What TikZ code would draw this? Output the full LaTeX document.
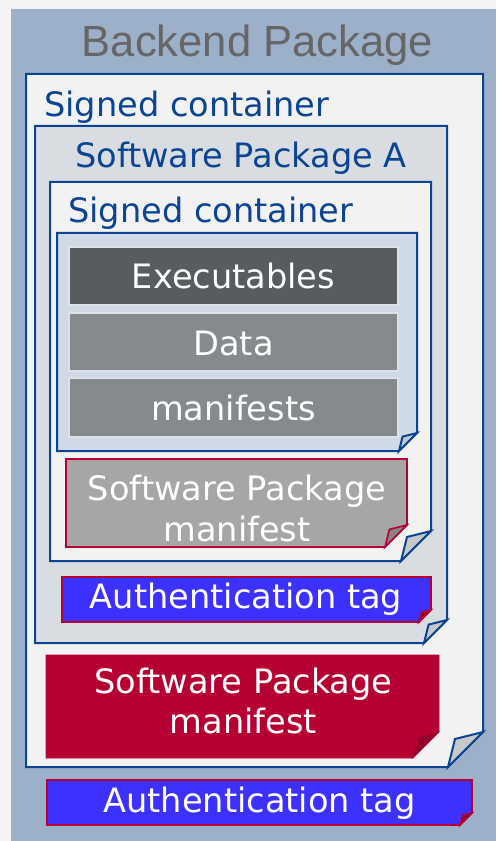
\documentclass[tikz,border=0pt]{standalone}
\usepackage{fontspec}
\setmainfont{DejaVu Sans}
\newfontfamily\bpfont{Liberation Sans}
\definecolor{pagebg}{HTML}{F4F4F4}
\definecolor{backend}{HTML}{9DB0C9}
\definecolor{dkblue}{HTML}{0A4493}
\definecolor{lightfill}{HTML}{F2F2F2}
\definecolor{spafill}{HTML}{D9DDE2}
\definecolor{innerfill}{HTML}{D0DAE6}
\definecolor{exefill}{HTML}{575C5F}
\definecolor{datafill}{HTML}{858B8D}
\definecolor{barline}{HTML}{DCE2E8}
\definecolor{grayman}{HTML}{A6A6A6}
\definecolor{crimson}{HTML}{B60032}
\definecolor{crimsondk}{HTML}{920028}
\definecolor{authblue}{HTML}{3C31FF}
\definecolor{flapgray}{HTML}{C6C8CA}
\definecolor{flapgraydk}{HTML}{858585}
\definecolor{titlegray}{HTML}{666666}
% folded-corner rectangle: #1 style, #2 L, #3 T, #4 R, #5 B, #6 fold size, #7 flap fill
\newcommand\foldrect[7]{%
  \draw[#1] (#2,#3) -- (#4,#3) -- (#4,#5-#6) -- (#4-#6,#5) -- (#2,#5) -- cycle;
  \draw[#1,fill=#7] (#4-#6,#5) -- (#4-0.8*#6,#5-0.8*#6) -- (#4,#5-#6) -- cycle;
}
\tikzset{
  bluebox/.style={draw=dkblue,line width=1.5pt,line join=miter},
  redbox/.style={draw=crimson,line width=1.2pt,line join=miter},
  bar/.style={draw=barline,line width=0.8pt},
  txt/.style={font=\fontsize{25.2}{30.5}\selectfont,inner sep=0pt,anchor=base},
  bluetxt/.style={txt,text=dkblue},
  whitetxt/.style={txt,text=white},
}
\begin{document}
\begin{tikzpicture}[x=0.75pt,y=-0.75pt]
\useasboundingbox (0,0) rectangle (496,841);
\fill[pagebg] (0,0) rectangle (496,841);
\fill[backend] (11,9) rectangle (496,841);
\node[txt,text=titlegray,font=\bpfont\fontsize{32.7}{36}\selectfont] (title) at (257.5,57) {Backend Package};

% outer signed container
\foldrect{bluebox,fill=lightfill}{26}{74}{483}{767}{35}{flapgray}
\node[bluetxt,anchor=base west] (sc1) at (44,117) {Signed container};

% software package A
\foldrect{bluebox,fill=spafill}{35}{126}{447}{643}{23}{flapgray}
\node[bluetxt] (spa) at (241,168) {Software Package A};

% inner signed container
\foldrect{bluebox,fill=lightfill}{50}{182}{431}{561}{30}{flapgray}
\node[bluetxt,anchor=base west] (sc2) at (68,223) {Signed container};

% innermost container
\foldrect{bluebox,fill=innerfill}{57}{233}{417}{451}{18}{flapgray}
\draw[bar,fill=exefill] (69,247) rectangle (398,305);
\draw[bar,fill=datafill] (69,313) rectangle (398,371);
\draw[bar,fill=datafill] (69,378) rectangle (398,437);
\node[whitetxt] (exe) at (233.5,289) {Executables};
\node[whitetxt] (data) at (233.5,355) {Data};
\node[whitetxt] (mans) at (233.5,420) {manifests};

% gray software package manifest
\foldrect{redbox,fill=grayman}{66}{459}{407}{547}{22}{flapgraydk}
\node[whitetxt,align=center,anchor=center] (spm1) at (237,508.5) {Software Package\\manifest};

% inner authentication tag
\foldrect{redbox,fill=authblue}{62}{577}{431}{622}{12}{crimsondk}
\node[whitetxt] (auth1) at (246,608) {Authentication tag};

% crimson software package manifest
\foldrect{draw=crimson,line width=0.5pt,fill=crimson}{46}{655}{439}{758}{26}{crimsondk}
\node[whitetxt,align=center,anchor=center] (spm2) at (243.5,701) {Software Package\\manifest};

% outer authentication tag
\foldrect{redbox,fill=authblue}{47}{780}{472}{825}{12}{crimsondk}
\node[whitetxt] (auth2) at (259.5,812) {Authentication tag};
\end{tikzpicture}
\end{document}
